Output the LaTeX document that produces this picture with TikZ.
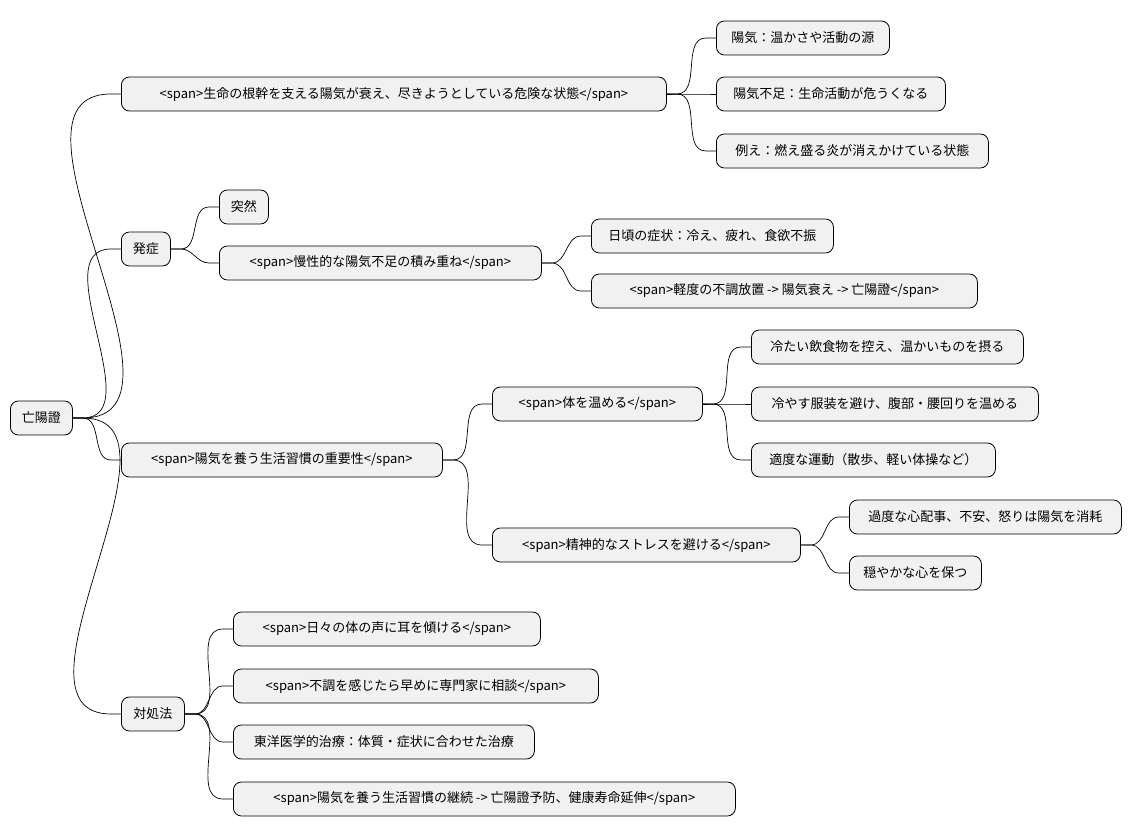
\documentclass[tikz,border=0pt]{standalone}
\usepackage{fontspec}
\setmainfont{Noto Sans CJK JP}
\begin{document}
\begin{tikzpicture}[x=1pt,y=-1pt,
  box/.style={draw=black,line width=0.8pt,fill={rgb,255:red,241;green,241;blue,241},rounded corners=8pt,minimum height=34pt,anchor=west,inner xsep=4pt,font=\fontsize{13}{15}\selectfont,align=center},
  link/.style={draw=black,line width=0.7pt}]
\useasboundingbox (0,0) rectangle (1132,837);
\newcommand\bx[5]{\node[box,minimum width=#4pt] (#1) at (#2,#3) {#5};}
\bx{r}{10}{418}{62}{亡陽證}
\bx{a}{121}{94}{545}{<span>生命の根幹を支える陽気が衰え、尽きようとしている危険な状態</span>}
\bx{a1}{716}{38}{173}{陽気：温かさや活動の源}
\bx{a2}{716}{94}{229}{陽気不足：生命活動が危うくなる}
\bx{a3}{716}{151}{272}{例え：燃え盛る炎が消えかけている状態}
\bx{b}{121}{249}{49}{発症}
\bx{b1}{219}{207}{49}{突然}
\bx{b2}{219}{263}{322}{<span>慢性的な陽気不足の積み重ね</span>}
\bx{b21}{591}{236}{242}{日頃の症状：冷え、疲れ、食欲不振}
\bx{b22}{591}{291}{386}{<span>軽度の不調放置 -> 陽気衰え -> 亡陽證</span>}
\bx{c}{121}{460}{321}{<span>陽気を養う生活習慣の重要性</span>}
\bx{c1}{492}{404}{210}{<span>体を温める</span>}
\bx{c11}{751}{347}{272}{冷たい飲食物を控え、温かいものを摂る}
\bx{c12}{751}{404}{287}{冷やす服装を避け、腹部・腰回りを温める}
\bx{c13}{751}{460}{244}{適度な運動（散歩、軽い体操など）}
\bx{c2}{492}{545}{308}{<span>精神的なストレスを避ける</span>}
\bx{c21}{849}{517}{272}{過度な心配事、不安、怒りは陽気を消耗}
\bx{c22}{849}{573}{132}{穏やかな心を保つ}
\bx{d}{121}{714}{63}{対処法}
\bx{d1}{233}{629}{307}{<span>日々の体の声に耳を傾ける</span>}
\bx{d2}{233}{686}{365}{<span>不調を感じたら早めに専門家に相談</span>}
\bx{d3}{233}{742}{301}{東洋医学的治療：体質・症状に合わせた治療}
\bx{d4}{233}{799}{502}{<span>陽気を養う生活習慣の継続 -> 亡陽證予防、健康寿命延伸</span>}
\foreach \p/\c in {r/a,r/b,r/c,r/d,a/a1,a/a2,a/a3,b/b1,b/b2,b2/b21,b2/b22,c/c1,c/c2,c1/c11,c1/c12,c1/c13,c2/c21,c2/c22,d/d1,d/d2,d/d3,d/d4}
  \draw[link] (\p.east) -- ++(10,0) to[out=0,in=180] ([xshift=-10pt]\c.west) -- (\c.west);
\end{tikzpicture}
\end{document}
